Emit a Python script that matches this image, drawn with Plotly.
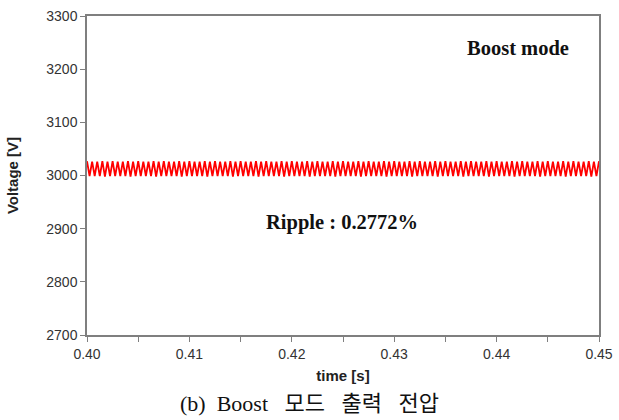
import plotly.graph_objects as go

# Data
t_start = 0.40          # s, first sample
t_step = 0.00025        # s, half switching period (peak to trough)
voltage = [
    3027, 2999, 3026, 2999, 3026, 2999, 3027, 2998, 3026, 2999,
    3027, 2999, 3026, 2999, 3026, 2999, 3027, 2998, 3026, 2999,
    3027, 2999, 3026, 2999, 3026, 2999, 3027, 2998, 3026, 2999,
    3027, 2999, 3026, 2999, 3026, 2999, 3027, 2998, 3026, 2999,
    3027, 2999, 3026, 2999, 3026, 2999, 3027, 2998, 3026, 2999,
    3027, 2999, 3026, 2999, 3026, 2999, 3027, 2998, 3026, 2999,
    3027, 2999, 3026, 2999, 3026, 2999, 3027, 2998, 3026, 2999,
    3027, 2999, 3026, 2999, 3026, 2999, 3027, 2998, 3026, 2999,
    3027, 2999, 3026, 2999, 3026, 2999, 3027, 2998, 3026, 2999,
    3027, 2999, 3026, 2999, 3026, 2999, 3027, 2998, 3026, 2999,
    3027, 2999, 3026, 2999, 3026, 2999, 3027, 2998, 3026, 2999,
    3027, 2999, 3026, 2999, 3026, 2999, 3027, 2998, 3026, 2999,
    3027, 2999, 3026, 2999, 3026, 2999, 3027, 2998, 3026, 2999,
    3027, 2999, 3026, 2999, 3026, 2999, 3027, 2998, 3026, 2999,
    3027, 2999, 3026, 2999, 3026, 2999, 3027, 2998, 3026, 2999,
    3027, 2999, 3026, 2999, 3026, 2999, 3027, 2998, 3026, 2999,
    3027, 2999, 3026, 2999, 3026, 2999, 3027, 2998, 3026, 2999,
    3027, 2999, 3026, 2999, 3026, 2999, 3027, 2998, 3026, 2999,
    3027, 2999, 3026, 2999, 3026, 2999, 3027, 2998, 3026, 2999,
    3027, 2999, 3026, 2999, 3026, 2999, 3027, 2998, 3026, 2999,
    3027,
]
x_range = [0.40, 0.45]
y_range = [2700, 3300]
x_tick_vals = [0.40, 0.41, 0.42, 0.43, 0.44, 0.45]
x_tick_text = ["0.40", "0.41", "0.42", "0.43", "0.44", "0.45"]
y_tick_vals = [2700, 2800, 2900, 3000, 3100, 3200, 3300]
y_tick_text = ["2700", "2800", "2900", "3000", "3100", "3200", "3300"]
mode_label = "Boost mode"
ripple_label = "Ripple : 0.2772%"
caption = "(b)&nbsp;&nbsp;Boost&nbsp;&nbsp;&nbsp;모드&nbsp;&nbsp;&nbsp;출력&nbsp;&nbsp;&nbsp;전압"

axis_color = "#7f7f7f"
tick_font = dict(family="Arial, Liberation Sans, sans-serif", size=14, color="#333333")
title_font = dict(family="Arial, Liberation Sans, sans-serif", size=15, color="#222222")
serif_bold = dict(family="Times New Roman, Liberation Serif, serif", size=20.5, color="#111111")

fig = go.Figure()
fig.add_trace(go.Scatter(
    x0=t_start, dx=t_step, y=voltage, mode="lines",
    line=dict(color="#ff0000", width=1.8), showlegend=False,
))

fig.update_layout(
    width=619, height=420,
    margin=dict(l=87, r=20, t=16, b=85, autoexpand=False),
    paper_bgcolor="white", plot_bgcolor="white",
    xaxis=dict(
        range=x_range, tickvals=x_tick_vals, ticktext=x_tick_text,
        automargin=False,
        showgrid=False, zeroline=False, showline=True, linecolor=axis_color,
        linewidth=1.5, mirror=True, ticks="outside", ticklen=5,
        tickcolor=axis_color, tickwidth=1, tickfont=tick_font,
        minor=dict(dtick=0.005, tick0=0.40, ticks="outside", ticklen=5,
                   tickcolor=axis_color, tickwidth=1),
        title=dict(text="<b>time [s]</b>", font=title_font, standoff=10),
    ),
    yaxis=dict(
        range=y_range, tickvals=y_tick_vals, ticktext=y_tick_text,
        automargin=False,
        showgrid=False, zeroline=False, showline=True, linecolor=axis_color,
        linewidth=1.5, mirror=True, ticks="outside", ticklen=5,
        tickcolor=axis_color, tickwidth=1, tickfont=tick_font,
        title=dict(text="<b>Voltage [V]</b>", font=title_font, standoff=24),
    ),
    annotations=[
        dict(text="<b>" + mode_label + "</b>", x=0.4421, y=3240, xref="x", yref="y",
             showarrow=False, font=serif_bold),
        dict(text="<b>" + ripple_label + "</b>", x=0.4249, y=2912, xref="x", yref="y",
             showarrow=False, font=serif_bold),
        dict(text=caption, x=(309 - 87) / 512, y=-(403 - 335) / 319,
             xref="paper", yref="paper", xanchor="center", yanchor="middle",
             showarrow=False,
             font=dict(family="Liberation Serif, Noto Sans CJK KR, serif", size=22, color="#111111")),
    ],
)

fig.write_html("out.html")
